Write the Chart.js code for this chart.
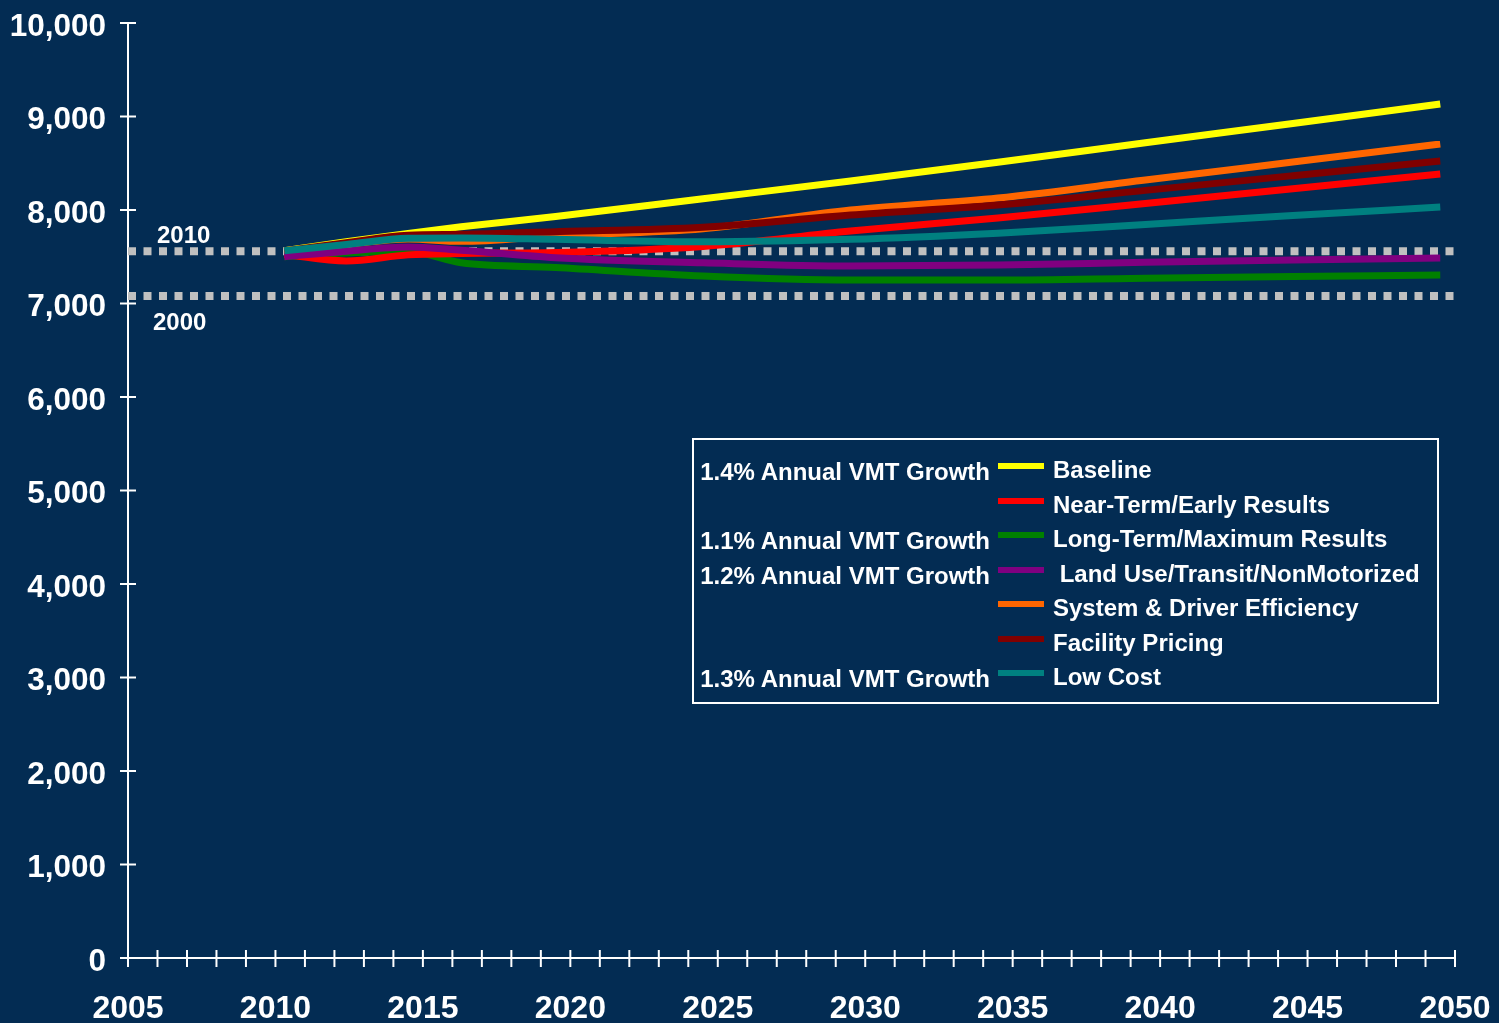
<!DOCTYPE html>
<html>
<head>
<meta charset="utf-8">
<script src="https://cdn.jsdelivr.net/npm/chart.js@4/dist/chart.umd.min.js"></script>
<style>
  body { margin: 0; background: #032c53; }
  #wrap { position: relative; width: 1499px; height: 1023px; font-family: "Liberation Sans", Arial, sans-serif; }
  #legend { position: absolute; left: 692px; top: 438px; width: 743px; height: 262px; border: 2px solid #fff; }
  .swatch { position: absolute; left: 998px; width: 46px; height: 6px; }
  .lbl { position: absolute; left: 1053px; height: 26px; line-height: 26px; color: #fff; font-weight: bold; font-size: 24px; white-space: pre; }
  .note { position: absolute; right: 509px; height: 26px; line-height: 26px; color: #fff; font-weight: bold; font-size: 24px; white-space: pre; text-align: right; }
</style>
</head>
<body>
<div id="wrap">
  <canvas id="vmtChart" width="1499" height="1023"></canvas>
  <div id="legend"></div>
</div>
<script>
// Years of the plotted points (lines run from 2010 to 2050)
const years = [2010.3, 2012.4, 2014.5, 2016.3, 2019.5, 2024.5, 2029.5, 2034.5, 2039.5, 2044.5, 2049.5];

// VMT by scenario
const baseline  = [7565, 7660, 7750, 7820, 7930, 8120, 8310, 8510, 8720, 8925, 9134];
const nearTerm  = [7525, 7455, 7520, 7535, 7545, 7610, 7775, 7914, 8070, 8228, 8385];
const longTerm  = [7500, 7540, 7555, 7436, 7385, 7294, 7251, 7251, 7270, 7288, 7305];
const landUse   = [7500, 7560, 7605, 7570, 7490, 7436, 7401, 7412, 7440, 7465, 7487];
const systemEff = [7565, 7630, 7690, 7665, 7725, 7800, 8000, 8128, 8320, 8513, 8706];
const pricing   = [7560, 7650, 7730, 7740, 7768, 7815, 7946, 8053, 8210, 8367, 8524];
const lowCost   = [7565, 7630, 7697, 7700, 7686, 7660, 7686, 7752, 7846, 7940, 8032];

const seriesNames = ['Baseline', 'Near-Term/Early Results', 'Long-Term/Maximum Results',
    ' Land Use/Transit/NonMotorized', 'System & Driver Efficiency', 'Facility Pricing', 'Low Cost'];
const seriesColors = ['#ffff00', '#ff0000', '#008000', '#800080', '#ff6600', '#800000', '#008080'];
const seriesOrder = [7, 3, 4, 2, 6, 5, 1]; // lower = drawn on top
const growthNotes = ['1.4% Annual VMT Growth', '', '1.1% Annual VMT Growth', '1.2% Annual VMT Growth',
    '', '', '1.3% Annual VMT Growth'];

// reference levels (dotted lines)
const refLabels = ['2010', '2000'];
const refValues = [7560, 7080];

const allSeries = [baseline, nearTerm, longTerm, landUse, systemEff, pricing, lowCost];
const FONT = '"Liberation Sans", Arial, sans-serif';

const datasets = allSeries.map((vals, i) => ({
    label: seriesNames[i],
    data: years.map((x, j) => ({ x: x, y: vals[j] })),
    borderColor: seriesColors[i],
    borderWidth: 7,
    pointRadius: 0,
    cubicInterpolationMode: 'monotone',
    order: seriesOrder[i]
}));

refValues.forEach((v, i) => {
    datasets.push({
        label: refLabels[i],
        data: [{ x: 2005, y: v }, { x: 2050, y: v }],
        borderColor: '#c0c0c0',
        borderWidth: 8,
        borderDash: [8, 7.5],
        pointRadius: 0,
        order: 100
    });
});

// background, cross tick marks and reference labels
const decor = {
    id: 'decor',
    beforeDraw(chart) {
        const c = chart.ctx;
        c.save();
        c.fillStyle = '#032c53';
        c.fillRect(0, 0, chart.width, chart.height);
        c.restore();
    },
    afterDraw(chart) {
        const c = chart.ctx;
        const xs = chart.scales.x, ys = chart.scales.y;
        c.save();
        c.strokeStyle = '#fff';
        c.lineWidth = 2;
        ys.ticks.forEach(t => {
            const py = ys.getPixelForValue(t.value);
            c.beginPath(); c.moveTo(xs.left - 8, py); c.lineTo(xs.left + 8, py); c.stroke();
        });
        xs.ticks.forEach(t => {
            const px = xs.getPixelForValue(t.value);
            c.beginPath(); c.moveTo(px, ys.bottom - 8); c.lineTo(px, ys.bottom + 9); c.stroke();
        });
        c.fillStyle = '#fff';
        c.font = 'bold 24px ' + FONT;
        c.textBaseline = 'middle';
        c.fillText(refLabels[0], xs.left + 29, ys.getPixelForValue(refValues[0]) - 15);
        c.fillText(refLabels[1], xs.left + 25, ys.getPixelForValue(refValues[1]) + 27);
        c.restore();
    }
};

new Chart(document.getElementById('vmtChart'), {
    type: 'line',
    data: { datasets: datasets },
    options: {
        responsive: false,
        animation: false,
        layout: { padding: { top: 23, right: 44, left: 0, bottom: 0 } },
        plugins: { legend: { display: false }, tooltip: { enabled: false } },
        scales: {
            x: {
                type: 'linear',
                min: 2005, max: 2050,
                grid: { display: false },
                border: { display: true, color: '#fff', width: 2 },
                ticks: {
                    stepSize: 1, autoSkip: false, maxRotation: 0, padding: 24,
                    color: '#fff', font: { family: FONT, size: 32, weight: 'bold' },
                    callback: v => (v % 5 === 0 ? String(v) : '')
                },
                afterFit: s => { s.height = 65; s.paddingLeft = 0; s.paddingRight = 0; }
            },
            y: {
                min: 0, max: 10000,
                grid: { display: false },
                border: { display: true, color: '#fff', width: 2 },
                ticks: {
                    stepSize: 1000, padding: 14, labelOffset: 4,
                    color: '#fff', font: { family: FONT, size: 31.5, weight: 'bold' },
                    callback: v => v.toLocaleString('en-US')
                },
                afterFit: s => { s.width = 128; s.paddingTop = 0; s.paddingBottom = 0; }
            }
        }
    },
    plugins: [decor]
});

// legend with growth notes
const wrap = document.getElementById('wrap');
seriesNames.forEach((name, i) => {
    const cy = 470 + i * 34.5;
    const sw = document.createElement('div');
    sw.className = 'swatch';
    sw.style.top = (cy - 7) + 'px';
    sw.style.background = seriesColors[i];
    wrap.appendChild(sw);
    const lb = document.createElement('div');
    lb.className = 'lbl';
    lb.style.top = (cy - 13) + 'px';
    lb.textContent = name;
    wrap.appendChild(lb);
    if (growthNotes[i]) {
        const nt = document.createElement('div');
        nt.className = 'note';
        nt.style.top = (cy - 11) + 'px';
        nt.textContent = growthNotes[i];
        wrap.appendChild(nt);
    }
});
</script>
</body>
</html>
